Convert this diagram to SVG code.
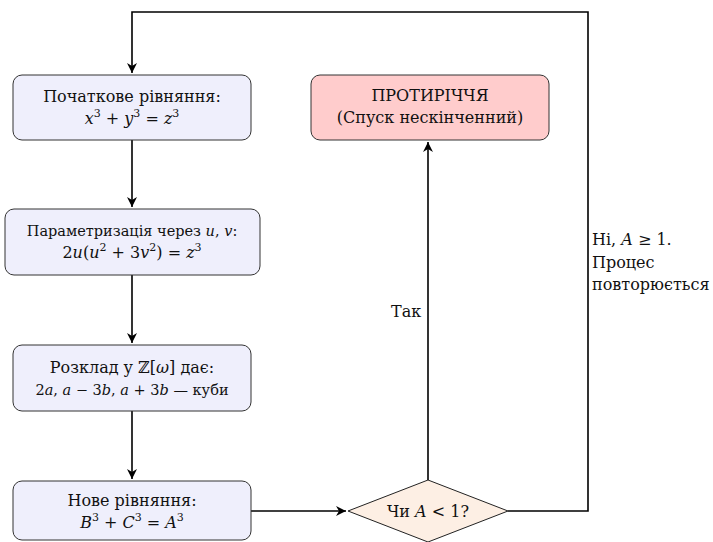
<svg xmlns="http://www.w3.org/2000/svg" width="713" height="542" viewBox="0 0 713 542">
<defs>
<marker id="arr" markerWidth="12" markerHeight="12" refX="10" refY="6" orient="auto" markerUnits="userSpaceOnUse">
<path d="M0,1 L10,6 L0,11 L3,6 Z" fill="#000"/>
</marker>
</defs>
<style>
.box{fill:#efeffc;stroke:#333;stroke-width:1}
.red{fill:#ffcccc;stroke:#333;stroke-width:1}
.dia{fill:#fdefe4;stroke:#222;stroke-width:1}
text{font-family:"DejaVu Serif",serif;font-size:16px;fill:#111;text-anchor:middle}
.lbl{text-anchor:start}
.sm{font-size:14.5px}
.i{font-style:italic}
.s{font-size:11px}
.c{fill:none;stroke:#000;stroke-width:1.6}
</style>
<rect width="713" height="542" fill="#fff"/>
<g id="connectors">
<path class="c" d="M132,140 V207" marker-end="url(#arr)"/>
<path class="c" d="M132,275 V343" marker-end="url(#arr)"/>
<path class="c" d="M132,411 V479" marker-end="url(#arr)"/>
<path class="c" d="M251,511 H346" marker-end="url(#arr)"/>
<path class="c" d="M428,480 V142" marker-end="url(#arr)"/>
<path class="c" d="M508,511 H588 V12 H132 V73" marker-end="url(#arr)"/>
<text class="lbl" x="391" y="317">Так</text>
<text class="lbl" x="592" y="245">Ні, <tspan class="i">A</tspan> ≥ 1.</text>
<text class="lbl" x="592" y="268">Процес</text>
<text class="lbl" x="592" y="290">повторюється</text>
</g>
<g id="n1">
<rect class="box" x="13" y="75" width="238" height="65" rx="9"/>
<text x="132" y="102">Початкове рівняння:</text>
<text x="132" y="124"><tspan class="i">x</tspan><tspan class="s" dy="-7">3</tspan><tspan dy="7"> + </tspan><tspan class="i">y</tspan><tspan class="s" dy="-7">3</tspan><tspan dy="7"> = </tspan><tspan class="i">z</tspan><tspan class="s" dy="-7">3</tspan></text>
</g>
<g id="n2">
<rect class="box" x="5" y="209" width="255" height="66" rx="9"/>
<text class="sm" x="132" y="236">Параметризація через <tspan class="i">u</tspan>, <tspan class="i">v</tspan>:</text>
<text x="132" y="258">2<tspan class="i">u</tspan>(<tspan class="i">u</tspan><tspan class="s" dy="-7">2</tspan><tspan dy="7"> + 3</tspan><tspan class="i">v</tspan><tspan class="s" dy="-7">2</tspan><tspan dy="7">) = </tspan><tspan class="i">z</tspan><tspan class="s" dy="-7">3</tspan></text>
</g>
<g id="n3">
<rect class="box" x="13" y="345" width="238" height="66" rx="9"/>
<text x="132" y="373">Розклад у ℤ[<tspan class="i">ω</tspan>] дає:</text>
<text class="sm" x="132" y="395">2<tspan class="i">a</tspan>, <tspan class="i">a</tspan> − 3<tspan class="i">b</tspan>, <tspan class="i">a</tspan> + 3<tspan class="i">b</tspan> — куби</text>
</g>
<g id="n4">
<rect class="box" x="13" y="481" width="238" height="59" rx="9"/>
<text x="132" y="506">Нове рівняння:</text>
<text x="132" y="528"><tspan class="i">B</tspan><tspan class="s" dy="-7">3</tspan><tspan dy="7"> + </tspan><tspan class="i">C</tspan><tspan class="s" dy="-7">3</tspan><tspan dy="7"> = </tspan><tspan class="i">A</tspan><tspan class="s" dy="-7">3</tspan></text>
</g>
<g id="n5">
<rect class="red" x="311" y="75" width="238" height="65" rx="9"/>
<text x="430" y="101">ПРОТИРІЧЧЯ</text>
<text x="430" y="123">(Спуск нескінченний)</text>
</g>
<g id="n6">
<polygon class="dia" points="348,511 428,480 508,511 428,542"/>
<text x="428" y="517">Чи <tspan class="i">A</tspan> &lt; 1?</text>
</g>
</svg>
